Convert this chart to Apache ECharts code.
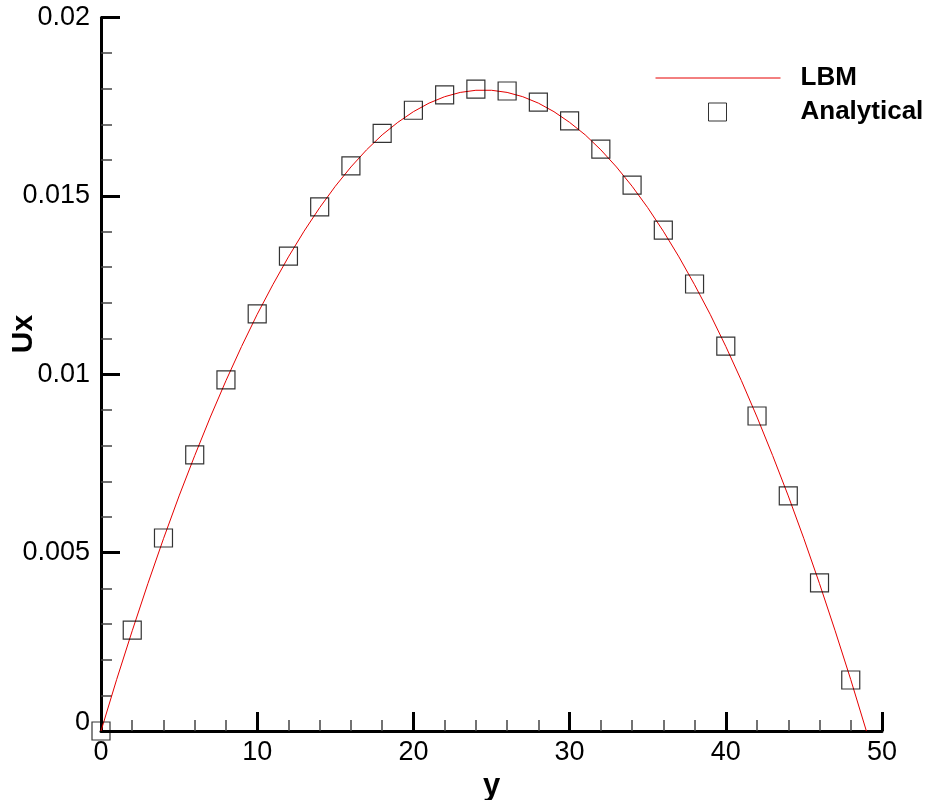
<!DOCTYPE html>
<html>
<head>
<meta charset="utf-8">
<script src="https://cdn.jsdelivr.net/npm/echarts@6/dist/echarts.min.js"></script>
<style>html,body{margin:0;padding:0;background:#fff;}#c{width:931px;height:800px;}</style>
</head>
<body>
<div id="c"></div>
<script>
// LBM profile (line)
var lbmY = [0,1,2,3,4,5,6,7,8,9,10,11,12,13,14,15,16,17,18,19,20,21,22,23,24,25,26,27,28,29,30,31,32,33,34,35,36,37,38,39,40,41,42,43,44,45,46,47,48,49];
var lbmU = [0,0.00144,0.00281,0.00413,0.00539,0.00659,0.00772,0.00880,0.00982,0.01078,0.01168,0.01251,0.01329,0.01401,0.01467,0.01527,0.01581,0.01629,0.01671,0.01706,0.01736,0.01760,0.01778,0.01790,0.01796,0.01796,0.01790,0.01778,0.01760,0.01736,0.01706,0.01671,0.01629,0.01581,0.01527,0.01467,0.01401,0.01329,0.01251,0.01168,0.01078,0.00982,0.00880,0.00772,0.00659,0.00539,0.00413,0.00281,0.00144,0];
// Analytical profile (squares)
var anaY = [0,2,4,6,8,10,12,14,16,18,20,22,24,26,28,30,32,34,36,38,40,42,44,46,48];
var anaU = [0,0.00283,0.00541,0.00774,0.00984,0.01169,0.01331,0.01469,0.01584,0.01675,0.01740,0.01783,0.01799,0.01794,0.01763,0.01710,0.01631,0.01530,0.01404,0.01253,0.01079,0.00883,0.00659,0.00415,0.00143];
// axis ticks
var xTicks = [0,10,20,30,40,50];
var yTicks = [0,0.005,0.01,0.015,0.02];
var seriesNames = ['LBM','Analytical'];
var xTitle = 'y', yTitle = 'Ux';

var FONT = 'Liberation Sans, Arial, sans-serif';
function pairs(xs, ys){ return xs.map(function(x,i){ return [x, ys[i]]; }); }

var chart = echarts.init(document.getElementById('c'), null, {renderer:'canvas'});
chart.setOption({
  animation: false,
  backgroundColor: '#ffffff',
  grid: {left: 101, right: 49, top: 17.5, bottom: 69, containLabel: false, outerBoundsMode: 'none'},
  xAxis: {
    type: 'value', min: xTicks[0], max: xTicks[xTicks.length-1], interval: 10,
    name: xTitle, nameLocation: 'middle', nameGap: 33,
    nameTextStyle: {fontFamily: FONT, fontWeight: 'bold', fontSize: 31, color: '#000'},
    axisLine: {show: true, onZero: false, lineStyle: {color: '#000', width: 3}},
    axisTick: {show: true, inside: true, length: 19, lineStyle: {color: '#000', width: 3}},
    minorTick: {show: true, splitNumber: 5, length: 11, lineStyle: {color: '#444', width: 1.5}},
    splitLine: {show: false},
    axisLabel: {margin: 8, fontFamily: FONT, fontSize: 27, color: '#000',
      formatter: function(v){ return String(v); }}
  },
  yAxis: {
    type: 'value', min: yTicks[0], max: yTicks[yTicks.length-1], interval: 0.005,
    axisLine: {show: true, onZero: false, lineStyle: {color: '#000', width: 3}},
    axisTick: {show: true, inside: true, length: 19, lineStyle: {color: '#000', width: 3}},
    minorTick: {show: true, splitNumber: 5, length: 11, lineStyle: {color: '#444', width: 1.5}},
    splitLine: {show: false},
    axisLabel: {margin: 11, fontFamily: FONT, fontSize: 27, color: '#000',
      formatter: function(v){ var s = String(+v.toFixed(4)); return v === 0 ? '{z|' + s + '}' : s; },
      rich: {z: {fontFamily: FONT, fontSize: 27, color: '#000', padding: [0,0,16,0]}}
    }
  },
  legend: [
    {data: [seriesNames[0]], left: 655, top: 65, padding: 0, itemWidth: 125, itemHeight: 14,
     selectedMode: false,
     itemStyle: {color: 'rgba(0,0,0,0)', borderColor: 'rgba(0,0,0,0)', borderWidth: 0, opacity: 0},
     lineStyle: {color: '#e60000', width: 1},
     textStyle: {fontFamily: FONT, fontWeight: 'bold', fontSize: 26, lineHeight: 26, color: '#000', padding: [0,0,0,15]}},
    {data: [seriesNames[1]], left: 708, top: 91, padding: 0, itemWidth: 18, itemHeight: 18,
     selectedMode: false, icon: 'rect',
     itemStyle: {color: 'rgba(0,0,0,0)', borderColor: '#000', borderWidth: 1},
     textStyle: {fontFamily: FONT, fontWeight: 'bold', fontSize: 26, lineHeight: 26, color: '#000', padding: [0,0,16,69]}}
  ],
  graphic: [
    {type: 'text', x: 24, y: 334, rotation: Math.PI/2,
     style: {text: yTitle, font: 'bold 30px ' + FONT, fill: '#000', align: 'center', verticalAlign: 'middle', textAlign: 'center', textVerticalAlign: 'middle'}}
  ],
  series: [
    {name: seriesNames[0], type: 'line', data: pairs(lbmY, lbmU), showSymbol: false, symbol: 'none',
     smooth: false, clip: false, lineStyle: {color: '#e60000', width: 1}, itemStyle: {color: '#e60000'}, z: 2},
    {name: seriesNames[1], type: 'scatter', data: pairs(anaY, anaU), symbol: 'rect', symbolSize: 18, clip: false,
     itemStyle: {color: 'rgba(0,0,0,0)', borderColor: '#000', borderWidth: 1.2}, z: 3}
  ]
});
</script>
</body>
</html>
